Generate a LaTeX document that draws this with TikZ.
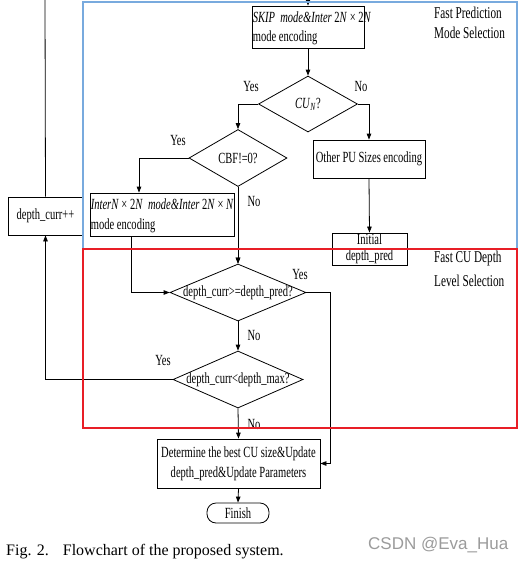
\documentclass[tikz,border=0pt]{standalone}
\usepackage{fontspec}
\setmainfont{Liberation Serif}[FakeStretch=0.68]
\newfontfamily\capfont{Liberation Serif}
\newfontfamily\wmfont{Liberation Sans}
\usetikzlibrary{shapes.geometric,arrows.meta}
\definecolor{frameblue}{RGB}{120,170,222}
\definecolor{framered}{RGB}{232,30,38}
\definecolor{wmgray}{RGB}{155,155,155}
\tikzset{
  box/.style={draw, line width=0.8pt, inner sep=1pt, font=\fontsize{15.5}{20}\selectfont},
  dia/.style={draw, diamond, line width=0.8pt, inner sep=0pt},
  arr/.style={-{Triangle[length=6pt,width=4.5pt]}},
  lbl/.style={font=\fontsize{15.5}{17}\selectfont, inner sep=0pt},
  intxt/.style={font=\fontsize{15.5}{17}\selectfont, inner sep=0pt, anchor=west},
  side/.style={font=\fontsize{16.5}{18}\selectfont, anchor=west, inner sep=0pt},
  conn/.style={line width=0.8pt}
}
\begin{document}
\begin{tikzpicture}[x=1pt,y=-1pt]
\useasboundingbox (0,0) rectangle (525,563);
\coordinate (topin) at (308,0);
\coordinate (loopend) at (45,0);
% boxes
\node[box, minimum width=112pt, minimum height=42pt] (skip) at (308,27) {};
\node[intxt] (skip1) at ([xshift=1pt,yshift=10pt]skip.west) {\textit{SKIP\ \ mode\&Inter}\,2\textit{N}\,×\,2\textit{N}};
\node[intxt] (skip2) at ([xshift=1pt,yshift=-11pt]skip.west) {mode encoding};
\node[dia, minimum width=99pt, minimum height=56pt] (cu) at (308,104) {};
\node[lbl] (cut) at (cu) {\textit{CU}\textsubscript{\textit{N}}?};
\node[dia, minimum width=98pt, minimum height=57pt] (cbf) at (238,158) {};
\node[lbl] (cbft) at (cbf) {CBF!=0?};
\node[box, minimum width=144pt, minimum height=43pt] (inter) at (162,214.5) {};
\node[intxt] (inter1) at ([xshift=1pt,yshift=10pt]inter.west) {\textit{InterN} × 2\textit{N}\ \ \textit{mode\&Inter}\,2\textit{N} × \textit{N}};
\node[intxt] (inter2) at ([xshift=1pt,yshift=-11pt]inter.west) {mode encoding};
\node[box, minimum width=112pt, minimum height=38pt] (other) at (369,159) {Other PU Sizes encoding};
\node[box, minimum width=75pt, minimum height=28pt, align=center, font=\fontsize{15.5}{16}\selectfont] (init) at (369.5,249) {Initial\\depth\_pred};
\node[box, minimum width=75pt, minimum height=38pt] (curr) at (45.5,216) {depth\_curr++};
\node[dia, minimum width=136pt, minimum height=57pt] (d1) at (238,292.5) {};
\node[lbl] (d1t) at (d1) {depth\_curr>=depth\_pred?};
\node[dia, minimum width=130pt, minimum height=57pt] (d2) at (238,379.5) {};
\node[lbl] (d2t) at (d2) {depth\_curr<depth\_max?};
\node[box, minimum width=163pt, minimum height=49pt, align=center] (det) at (238.5,463.5)
  {Determine the best CU size\&Update\\depth\_pred\&Update Parameters};
\node[box, minimum width=62pt, minimum height=20pt, rounded corners=9pt, inner sep=0pt] (fin) at (238,513) {Finish};
% connectors
\draw[conn,arr] (topin) -- (skip.north);
\draw[conn,arr] (skip.south) -- (cu.north);
\draw[conn,arr] (cu.west) -| (cbf.north);
\draw[conn,arr] (cu.east) -| (other.north);
\draw[conn,arr] (cbf.west) -| ([xshift=-23pt]inter.north);
\draw[conn,arr] (other.south) -- (init.north);
\draw[conn,arr] (init.west) -| (d1.north);
\draw[conn,arr] (cbf.south) -- (d1.north);
\draw[conn,arr] ([xshift=-31pt]inter.south) |- (d1.west);
\draw[conn,arr] (d1.south) -- (d2.north);
\draw[conn,arr] (d2.west) -| (curr.south);
\draw[conn] (curr.north) -- (loopend);
\draw[conn,arr] (d1.east) -- ++(24,0) |- (det.east);
\draw[conn,arr] (d2.south) -- (det.north);
\draw[conn,arr] (det.south) -- (fin.north);
% yes/no labels
\node[lbl] (y1) at (251,86) {Yes};
\node[lbl] (n1) at (361,86) {No};
\node[lbl] (y2) at (178,140) {Yes};
\node[lbl] (n2) at (254,201) {No};
\node[lbl] (y3) at (300,274) {Yes};
\node[lbl] (n3) at (254,335) {No};
\node[lbl] (y4) at (163,360) {Yes};
\node[lbl] (n4) at (254,424) {No};
% frames
\draw[frameblue, line width=1.3pt] (83,2) rectangle (517,249);
\draw[framered, line width=1.3pt] (83,249) rectangle (517,428);
% side labels
\node[side] (s1) at (434,13) {Fast Prediction};
\node[side] (s2) at (434,33) {Mode Selection};
\node[side] (s3) at (434,259) {Fast CU Depth};
\node[side] (s4) at (434,281) {Level Selection};
% caption and watermark
\node[anchor=west, inner sep=0pt, font=\capfont\fontsize{16}{18}\selectfont] (cap) at (6,552) {Fig. 2.\hspace{14pt}Flowchart of the proposed system.};
\node[anchor=west, inner sep=0pt, text=wmgray, font=\wmfont\fontsize{17}{20}\selectfont] (wm) at (368,545) {CSDN @Eva\_Hua};
\end{tikzpicture}
\end{document}
